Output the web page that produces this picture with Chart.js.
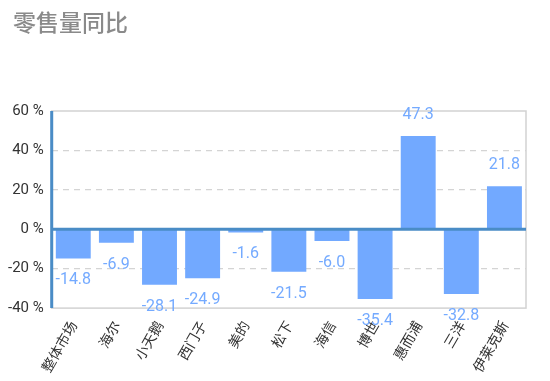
<!DOCTYPE html>
<html>
<head>
<meta charset="utf-8">
<script src="https://cdn.jsdelivr.net/npm/chart.js@4"></script>
<style>
  html, body { margin: 0; padding: 0; background: #fff; }
  #wrap { width: 550px; height: 381px; }
</style>
</head>
<body>
<div id="wrap"><canvas id="chart"></canvas></div>
<script>
// data
var title = '零售量同比';
var categories = ['整体市场', '海尔', '小天鹅', '西门子', '美的', '松下', '海信', '博世', '惠而浦', '三洋', '伊莱克斯'];
var changes = [-14.8, -6.9, -28.1, -24.9, -1.6, -21.5, -6.0, -35.4, 47.3, -32.8, 21.8];
var yTicks = [-40, -20, 0, 20, 40, 60];

var BLUE_LINE = '#4a8cc6';
var BAR = '#72a9ff';

// title, box round the plot, left axis, zero line and value labels
var decor = {
    id: 'decor',
    beforeDatasetsDraw: function(chart) {
        var a = chart.chartArea, ctx = chart.ctx;
        ctx.save();
        ctx.strokeStyle = '#d2d2d2';
        ctx.lineWidth = 1.5;
        ctx.strokeRect(a.left, a.top, a.right - a.left, a.bottom - a.top);

        ctx.font = '500 23px "Noto Sans CJK SC"';
        ctx.fillStyle = '#8a8a8a';
        ctx.textAlign = 'left';
        ctx.textBaseline = 'middle';
        ctx.fillText(title, 13, 22);
        ctx.restore();
    },
    afterDatasetsDraw: function(chart) {
        var a = chart.chartArea, ctx = chart.ctx;
        var y0 = chart.scales.y.getPixelForValue(0);
        ctx.save();
        ctx.strokeStyle = BLUE_LINE;
        ctx.lineWidth = 3;
        ctx.beginPath();
        ctx.moveTo(a.left, y0);
        ctx.lineTo(a.right, y0);
        ctx.moveTo(a.left, a.top);
        ctx.lineTo(a.left, a.bottom);
        ctx.stroke();

        ctx.font = '16px Roboto';
        ctx.fillStyle = '#74aaff';
        ctx.textAlign = 'center';
        ctx.textBaseline = 'middle';
        chart.getDatasetMeta(0).data.forEach(function(bar, i) {
            var v = changes[i];
            var y = v < 0 ? bar.y + 22 : bar.y - 21;
            ctx.fillText(v.toFixed(1), bar.x, y);
        });
        ctx.restore();
    }
};

new Chart(document.getElementById('chart'), {
    type: 'bar',
    data: {
        labels: categories,
        datasets: [{
            data: changes,
            backgroundColor: BAR,
            borderWidth: 0,
            barPercentage: 0.81,
            categoryPercentage: 1
        }]
    },
    options: {
        responsive: true,
        maintainAspectRatio: false,
        animation: false,
        layout: { padding: { left: 0, right: 24, top: 111, bottom: 4 } },
        plugins: {
            legend: { display: false },
            tooltip: { enabled: false },
            title: { display: false }
        },
        scales: {
            x: {
                grid: { display: false },
                border: { display: false },
                ticks: {
                    color: '#333',
                    font: { family: '"Noto Sans CJK SC"', size: 14 },
                    maxRotation: 60,
                    minRotation: 60,
                    autoSkip: false,
                    padding: 2
                }
            },
            y: {
                min: -40,
                max: 60,
                afterBuildTicks: function(axis) {
                    axis.ticks = yTicks.map(function(v) { return { value: v }; });
                },
                grid: {
                    drawTicks: false,
                    lineWidth: 1.2,
                    color: function(ctx) {
                        var v = ctx.tick.value;
                        return (v === 0 || v === 60 || v === -40) ? 'rgba(0,0,0,0)' : '#d4d4d4';
                    }
                },
                border: {
                    display: false,
                    dash: [6, 5]
                },
                ticks: {
                    color: '#333',
                    font: { family: 'Roboto', size: 15 },
                    padding: 8,
                    callback: function(v) { return v + ' %'; }
                }
            }
        }
    },
    plugins: [decor]
});
</script>
</body>
</html>
